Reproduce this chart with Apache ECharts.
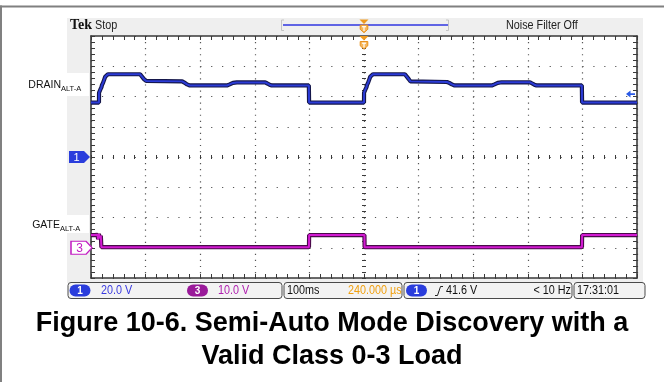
<!DOCTYPE html>
<html>
<head>
<meta charset="utf-8">
<script src="https://cdn.jsdelivr.net/npm/echarts@6/dist/echarts.min.js"></script>
<style>
  html, body { margin: 0; padding: 0; background: #fff; }
  #c { width: 664px; height: 382px; }
</style>
</head>
<body>
<div id="c"></div>
<script>
// Horizontal scale: 100 ms/div, 10 divisions, trigger at centre (0 ms)
const timeRange = [-500, 500];
const timeStep = 100;

// CH1 (DRAIN ALT-A), 20 V/div, ground on centre line
const ch1Range = [-80, 80];
const ch1Step = 20;
// CH3 (GATE ALT-A), 10 V/div, ground three divisions below centre
const ch3Range = [-10, 70];

// Drain waveform: time (ms) and voltage (V)
const drainTime = [-500, -485.4, -485.3, -484, -483, -482, -481, -480, -478, -476, -474, -472, -469,
  -410, -407, -403, -399, -396, -333, -329, -324, -319, -251, -246, -240, -233,
  -181, -177, -173, -169, -101, -100.6,
  0, 0.1, 1.4, 2.4, 3.4, 4.4, 5.4, 7.4, 9.4, 11.4, 13.4, 16.4,
  75, 78, 82, 85, 88, 152, 156, 161, 166, 234, 239, 245, 252,
  304, 308, 312, 316, 399, 399.4, 500];
const drainVolts = [36, 36, 42.5, 43.5, 44.5, 43.8, 46, 47.5, 49, 51, 53, 54.2, 54.7,
  54.7, 53.8, 51.5, 50.3, 50, 50, 49.2, 48, 47.3, 47.3, 48, 49, 49.3,
  49.3, 48.6, 47.8, 47.3, 47.3, 36,
  36, 42.5, 43.5, 44.5, 43.8, 46, 47.5, 49, 51, 53, 54.2, 54.7,
  54.7, 53.6, 51.5, 50, 49.6, 49.6, 49, 48, 47.3, 47.3, 48, 49, 49.4,
  49.4, 48.6, 47.8, 47.3, 47.3, 36, 36];

// Gate waveform: time (ms) and voltage (V)
const gateTime = [-500, -494, -493.5, -492.5, -488, -487, -485.5, -484, -482, -481.2, -481,
  -100.8, -100.5, 0.8, 1.1, 399.2, 399.5, 500];
const gateVolts = [4.2, 4.2, 3.6, 4.3, 4.3, 2.8, 4.6, 3.2, 4.0, 4.0, 0.2,
  0.2, 4.2, 4.2, 0.2, 0.2, 4.2, 4.2];

// Trigger level on CH1 (V)
const triggerLevel = 41.6;

// Readout texts
const ch1ScaleText = '20.0 V';
const ch3ScaleText = '10.0 V';
const timebaseText = '100ms';
const delayText = '240.000 µs';
const trigText = '41.6 V';
const freqText = '< 10 Hz';
const clockText = '17:31:01';
const captionLines = ['Figure 10-6. Semi-Auto Mode Discovery with a', 'Valid Class 0-3 Load'];

const toPairs = (xs, ys) => xs.map((x, i) => [x, ys[i]]);

const FRAME = '#3a3a3a';
const DOT = '#555';
const UI_FONT = "'Liberation Sans', Arial, sans-serif";

function borderX(pos, withGrid) {
  return {
    type: 'value', min: timeRange[0], max: timeRange[1], interval: timeStep, position: pos,
    axisLine: { show: true, onZero: false, lineStyle: { color: FRAME, width: 1.6 } },
    axisTick: { show: true, inside: true, length: 4, lineStyle: { color: FRAME, width: 1 } },
    minorTick: { show: true, splitNumber: 5, length: 4, lineStyle: { color: FRAME, width: 1 } },
    axisLabel: { show: false },
    splitLine: withGrid ? { show: true, lineStyle: { color: DOT, width: 1.2, type: [1.2, 4.85] } } : { show: false }
  };
}
function centreX(inside) {
  return {
    type: 'value', min: timeRange[0], max: timeRange[1], interval: timeStep, position: 'bottom',
    axisLine: { show: false, onZero: true, onZeroAxisIndex: 0 },
    axisTick: { show: true, inside: inside, length: 2, lineStyle: { color: FRAME, width: 1 } },
    minorTick: { show: true, splitNumber: 5, length: 2, lineStyle: { color: FRAME, width: 1 } },
    axisLabel: { show: false }, splitLine: { show: false }
  };
}
function borderY(pos, withGrid) {
  return {
    type: 'value', min: ch1Range[0], max: ch1Range[1], interval: ch1Step, position: pos,
    axisLine: { show: true, onZero: false, lineStyle: { color: FRAME, width: 1.6 } },
    axisTick: { show: true, inside: true, length: 4, lineStyle: { color: FRAME, width: 1 } },
    minorTick: { show: true, splitNumber: 5, length: 4, lineStyle: { color: FRAME, width: 1 } },
    axisLabel: { show: false },
    splitLine: withGrid ? { show: true, lineStyle: { color: DOT, width: 1.2, type: [1.2, 9.72] } } : { show: false }
  };
}
function centreY(inside) {
  return {
    type: 'value', min: ch1Range[0], max: ch1Range[1], interval: ch1Step, position: 'left',
    axisLine: { show: false, onZero: true, onZeroAxisIndex: 0 },
    axisTick: { show: true, inside: inside, length: 2, lineStyle: { color: FRAME, width: 1 } },
    minorTick: { show: true, splitNumber: 5, length: 2, lineStyle: { color: FRAME, width: 1 } },
    axisLabel: { show: false }, splitLine: { show: false }
  };
}

function txt(x, y, text, size, color, align, extra) {
  return Object.assign({
    type: 'text', x: x, y: y, z: 20, scaleX: 0.9,
    style: { text: text, font: size + 'px ' + UI_FONT, fill: color, textAlign: align || 'left', textVerticalAlign: 'middle' }
  }, extra || {});
}
function pill(x, y, label, color) {
  return {
    type: 'group', x: x, y: y, z: 25, children: [
      { type: 'rect', z: 25, shape: { x: 0, y: 0, width: 21, height: 12, r: 6 }, style: { fill: color } },
      { type: 'text', z: 26, style: { x: 10.5, y: 6.5, text: label, fill: '#fff', font: 'bold 10px ' + UI_FONT, textAlign: 'center', textVerticalAlign: 'middle' } }
    ]
  };
}
function box(x, w) {
  return { type: 'rect', z: 15, shape: { x: x, y: 282.5, width: w, height: 16, r: 3 }, style: { fill: '#f3f3f3', stroke: '#4a4a4a', lineWidth: 1 } };
}
function trigMarker(cx, top) {
  return {
    type: 'group', x: cx, y: top, z: 30, children: [
      { type: 'polygon', z: 30, shape: { points: [[-4.5, 0], [4.5, 0], [0, 4.5]] }, style: { fill: '#f09a1e' } },
      { type: 'polygon', z: 30, shape: { points: [[-3.8, 5.5], [3.8, 5.5], [3.8, 9.8], [0, 13.2], [-3.8, 9.8]] }, style: { fill: '#f6b65a', stroke: '#e8901c', lineWidth: 1 } },
      { type: 'line', z: 31, shape: { x1: 0, y1: 7, x2: 0, y2: 11.5 }, style: { stroke: '#fff', lineWidth: 1.2 } },
      { type: 'line', z: 31, shape: { x1: -2, y1: 7.2, x2: 2, y2: 7.2 }, style: { stroke: '#fff', lineWidth: 1.2 } }
    ]
  };
}

const drainData = toPairs(drainTime, drainVolts);
const gateData = toPairs(gateTime, gateVolts);

const chart = echarts.init(document.getElementById('c'), null, { renderer: 'canvas' });

const staticGraphics = [
  // outer frame (top and left rules)
  { type: 'rect', z: -5, shape: { x: 0, y: 5.5, width: 664, height: 2 }, style: { fill: '#808080' } },
  { type: 'rect', z: -5, shape: { x: 0, y: 5.5, width: 2, height: 377 }, style: { fill: '#808080' } },
  // scope screen panel
  { type: 'rect', z: -5, shape: { x: 67, y: 18, width: 576, height: 265 }, style: { fill: '#efefef' } },
  // header
  { type: 'text', x: 70, y: 25, z: 20, style: { text: 'Tek', font: 'bold 14px "Liberation Serif", serif', fill: '#111', textVerticalAlign: 'middle' } },
  txt(95, 25.5, 'Stop', 12, '#222'),
  txt(506, 25.5, 'Noise Filter Off', 12, '#222'),
  { type: 'line', z: 20, shape: { x1: 283, y1: 25, x2: 448, y2: 25 }, style: { stroke: '#2f36e0', lineWidth: 1.5 } },
  { type: 'polyline', z: 20, shape: { points: [[284, 20], [281.5, 20], [281.5, 30.5], [284, 30.5]] }, style: { stroke: '#c4c4c4', lineWidth: 1, fill: null } },
  { type: 'polyline', z: 20, shape: { points: [[446, 20], [448.5, 20], [448.5, 30.5], [446, 30.5]] }, style: { stroke: '#c4c4c4', lineWidth: 1, fill: null } },
  // channel name labels
  { type: 'rect', z: 10, shape: { x: 67, y: 73, width: 22, height: 23 }, style: { fill: '#fff' } },
  { type: 'rect', z: 10, shape: { x: 67, y: 215, width: 22, height: 18 }, style: { fill: '#fff' } },
  { type: 'text', x: 61, y: 85, z: 20, style: { text: 'DRAIN', font: '10.5px ' + UI_FONT, fill: '#111', textAlign: 'right', textVerticalAlign: 'middle' } },
  { type: 'text', x: 61, y: 88.5, z: 20, style: { text: 'ALT-A', font: '7.5px ' + UI_FONT, fill: '#111', textAlign: 'left', textVerticalAlign: 'middle' } },
  { type: 'text', x: 60, y: 225, z: 20, style: { text: 'GATE', font: '10.5px ' + UI_FONT, fill: '#111', textAlign: 'right', textVerticalAlign: 'middle' } },
  { type: 'text', x: 60, y: 228.5, z: 20, style: { text: 'ALT-A', font: '7.5px ' + UI_FONT, fill: '#111', textAlign: 'left', textVerticalAlign: 'middle' } },
  // status readout
  box(68, 214), box(284, 118), box(404, 168), box(574, 71),
  pill(69.5, 284.5, '1', '#2a3ddc'),
  txt(101, 291, ch1ScaleText, 12, '#3a3ae0'),
  pill(187, 284.5, '3', '#9a1a9a'),
  txt(218, 291, ch3ScaleText, 12, '#b020b0'),
  txt(287, 291, timebaseText, 12, '#111'),
  txt(348, 291, delayText, 12, '#f0a010'),
  pill(406, 284.5, '1', '#2a3ddc'),
  { type: 'polyline', z: 20, shape: { points: [[435, 295.5], [437.5, 295.5], [440.5, 286.5], [443, 286.5]] }, style: { stroke: '#222', lineWidth: 1, fill: null } },
  txt(446, 291, trigText, 12, '#111'),
  txt(571, 291, freqText, 12, '#111', 'right'),
  txt(577, 291, clockText, 12, '#111'),
  // caption
  { type: 'text', x: 332, y: 324, z: 20, style: { text: captionLines[0], font: 'bold 27px ' + UI_FONT, fill: '#000', textAlign: 'center', textVerticalAlign: 'middle' } },
  { type: 'text', x: 332, y: 357, z: 20, style: { text: captionLines[1], font: 'bold 27px ' + UI_FONT, fill: '#000', textAlign: 'center', textVerticalAlign: 'middle' } }
];

chart.setOption({
  animation: false,
  grid: { left: 91, right: 27, top: 36, bottom: 104, show: true, backgroundColor: '#fff', borderWidth: 0 },
  xAxis: [borderX('bottom', true), borderX('top', false), centreX(true), centreX(false)],
  yAxis: [
    borderY('left', true), borderY('right', false), centreY(true), centreY(false),
    { type: 'value', min: ch3Range[0], max: ch3Range[1], show: false, axisLine: { onZero: false } }
  ],
  series: [
    { type: 'line', name: 'DRAIN edge', xAxisIndex: 0, yAxisIndex: 0, data: drainData, showSymbol: false, silent: true, z: 3,
      lineStyle: { color: '#14164a', width: 4.2 } },
    { type: 'line', name: 'DRAIN', xAxisIndex: 0, yAxisIndex: 0, data: drainData, showSymbol: false, silent: true, z: 4, clip: false,
      lineStyle: { color: '#2b3bd6', width: 2 },
      markPoint: {
        silent: true,
        data: [
          { name: 'CH1 ground', coord: [timeRange[0], 0], symbol: 'path://M0,0L15,0L21,6L15,12L0,12Z', symbolSize: [21, 12], symbolOffset: [-11.5, 0],
            itemStyle: { color: '#2a3ddc' }, label: { show: true, formatter: '1', color: '#fff', fontSize: 11, fontFamily: 'Liberation Sans', offset: [-3, 0.5] } },
          { name: 'Trigger level', coord: [timeRange[1], triggerLevel], symbol: 'path://M0,4L5,0L5,3L10,3L10,5L5,5L5,8Z', symbolSize: [9, 7], symbolOffset: [-6.5, 0],
            itemStyle: { color: '#2a5ae6' }, label: { show: false } }
        ]
      } },
    { type: 'line', name: 'GATE edge', xAxisIndex: 0, yAxisIndex: 4, data: gateData, showSymbol: false, silent: true, z: 3,
      lineStyle: { color: '#4a0a4a', width: 4.2 } },
    { type: 'line', name: 'GATE', xAxisIndex: 0, yAxisIndex: 4, data: gateData, showSymbol: false, silent: true, z: 4, clip: false,
      lineStyle: { color: '#d21ad2', width: 2 },
      markPoint: {
        silent: true,
        data: [
          { name: 'CH3 ground', coord: [timeRange[0], 0], symbol: 'path://M0,0L15,0L21,6.5L15,13L0,13Z', symbolSize: [21, 13], symbolOffset: [-9.5, 0],
            itemStyle: { color: '#fff', borderColor: '#c21cc2', borderWidth: 1.2 },
            label: { show: true, formatter: '3', color: '#c21cc2', fontSize: 12, fontFamily: 'Liberation Sans', offset: [-2, 0.5] } }
        ]
      } }
  ],
  graphic: { elements: staticGraphics }
});

// Trigger-position markers above the graticule, placed at t = 0
const trigX = chart.convertToPixel({ xAxisIndex: 0 }, 0);
const gridTop = chart.convertToPixel({ yAxisIndex: 0 }, ch1Range[1]);
chart.setOption({
  graphic: { elements: staticGraphics.concat([trigMarker(trigX, 19.5), trigMarker(trigX, gridTop)]) }
});
</script>
</body>
</html>
